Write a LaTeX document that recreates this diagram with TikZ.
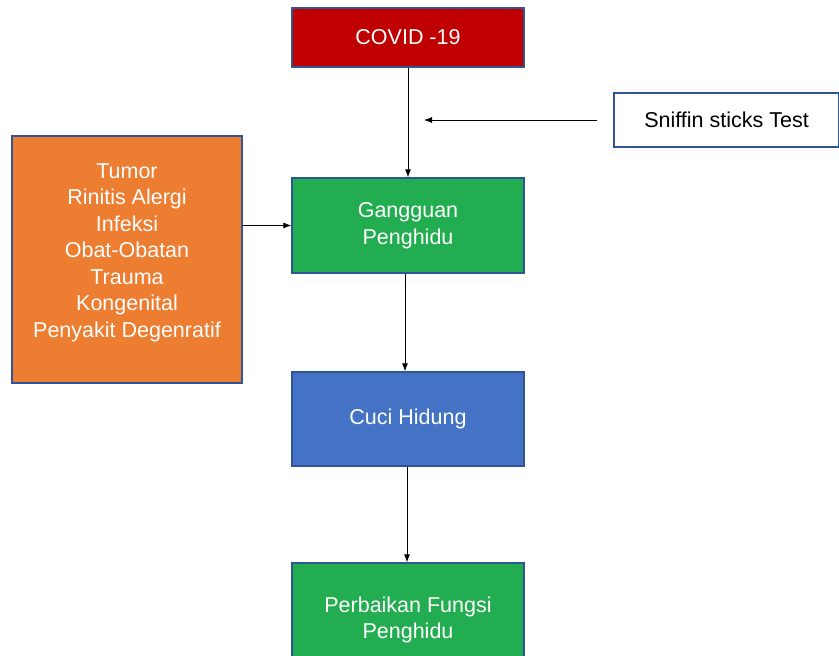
\documentclass[tikz,border=0pt]{standalone}
\usepackage{fontspec}
\setmainfont{Liberation Sans}
\usetikzlibrary{arrows.meta}
\definecolor{covidred}{HTML}{C00000}
\definecolor{boxgreen}{HTML}{22AE50}
\definecolor{boxorange}{HTML}{ED7D31}
\definecolor{boxblue}{HTML}{4472C4}
\definecolor{boxline}{HTML}{2F5597}
\begin{document}
\begin{tikzpicture}[x=1pt,y=-1pt,
    box/.style={draw=boxline,line width=1.3pt,minimum width=232pt,align=center,
      text=white,font=\fontsize{21.5}{26.5}\selectfont},
    >={Latex[length=8pt,width=6pt]}]
    \useasboundingbox (0,0) rectangle (839,656);
    \node[box,fill=covidred,minimum height=59pt] (covid) at (408,37.5) {COVID -19};
    \node[box,fill=white,text=black,minimum width=225pt,minimum height=54pt] (sniff) at (726.5,120) {Sniffin sticks Test};
    \node[box,fill=boxorange,minimum width=230pt,minimum height=247pt] (cause) at (127,259.5) {};
    \node[box,draw=none,anchor=center] (causetext) at ([yshift=7pt]cause.center)
      {Tumor\\Rinitis Alergi\\Infeksi\\Obat-Obatan\\Trauma\\Kongenital\\Penyakit Degenratif};
    \node[box,fill=boxgreen,minimum height=95pt] (gang) at (408,225.5) {Gangguan\\Penghidu};
    \node[box,fill=boxblue,minimum height=94pt] (cuci) at (408,419) {Cuci Hidung};
    \node[box,fill=boxgreen,minimum height=114pt] (fix) at (408,620) {Perbaikan Fungsi\\Penghidu};
    \coordinate (hit) at (424,120);
    % arrows
    \draw[->,line width=0.8pt] (covid) -- (gang);
    \draw[->,line width=0.8pt] ([xshift=-16pt]sniff.west) -- (hit);
    \draw[->,line width=0.8pt] (cause.east |- gang.west) -- (gang.west);
    \draw[->,line width=0.8pt] ([xshift=-3pt]gang.south) -- ([xshift=-3pt]cuci.north);
    \draw[->,line width=0.8pt] ([xshift=-1pt]cuci.south) -- ([xshift=-1pt]fix.north);
\end{tikzpicture}
\end{document}
